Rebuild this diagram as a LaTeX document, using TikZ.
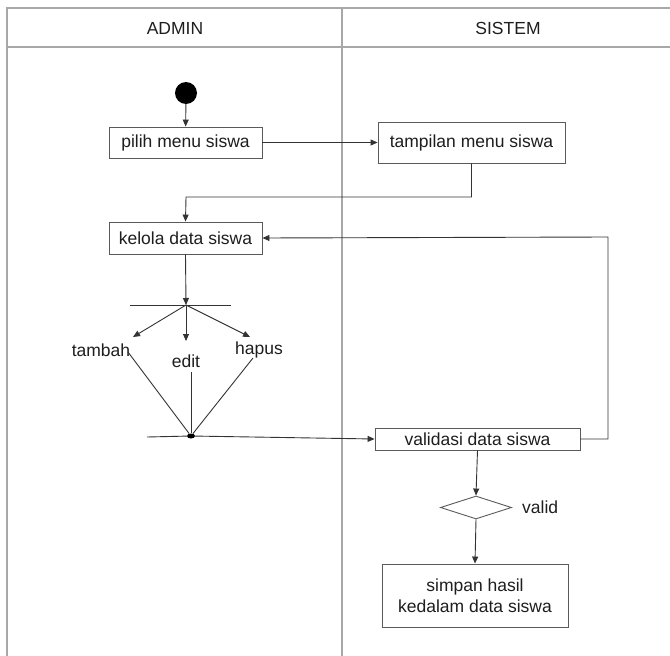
\documentclass[tikz,border=0pt]{standalone}
\usepackage{fontspec}
\setmainfont{Liberation Sans}
\usetikzlibrary{arrows.meta,shapes.geometric}
\definecolor{framegray}{HTML}{A8A8A8}
\definecolor{boxgray}{HTML}{5A5A5A}
\definecolor{linegray}{HTML}{333333}
\definecolor{textdark}{HTML}{1E1E1E}
\tikzset{
  act/.style={draw=boxgray, line width=0.9pt, fill=white, inner sep=0pt, align=center,
    text=textdark, font=\fontsize{17.5}{21}\selectfont},
  lbl/.style={inner sep=0pt, text=textdark, font=\fontsize{17.5}{21}\selectfont},
  hdr/.style={inner sep=0pt, text=textdark, font=\fontsize{17.5}{21}\selectfont},
  flow/.style={draw=linegray, line width=0.9pt, -{Triangle[length=7pt,width=6pt]}},
  plain/.style={draw=linegray, line width=0.9pt},
  frame/.style={draw=framegray, line width=1.2pt}
}
\begin{document}
\begin{tikzpicture}[x=1pt,y=-1pt]
\useasboundingbox (0,0) rectangle (670,656);
% swimlane frame
\coordinate (tl) at (7,8);
\coordinate (tr) at (670,8);
\coordinate (hl) at (7,47);
\coordinate (hr) at (670,47);
\coordinate (bl) at (7,656);
\coordinate (dt) at (342,8);
\coordinate (db) at (342,656);
\draw[frame] (tr) -- (tl) -- (bl);
\draw[frame] (hl) -- (hr);
\draw[frame] (dt) -- (db);
\node[hdr] (hadmin) at (175,28) {ADMIN};
\node[hdr] (hsistem) at (508,28) {SISTEM};

% nodes
\node[circle, fill=black, inner sep=0pt, minimum size=22pt] (start) at (186,93) {};
\node[act, minimum width=153pt, minimum height=31pt] (pilih) at (185.5,142.5) {pilih menu siswa};
\node[act, minimum width=187pt, minimum height=41pt] (tampil) at (471.5,142.5) {tampilan menu siswa};
\node[act, minimum width=153pt, minimum height=32pt] (kelola) at (185.5,238) {kelola data siswa};
\coordinate (fork) at (186,305);
\coordinate (forkL) at (130,305);
\coordinate (forkR) at (231,305);
\node[lbl] (tambah) at (101,350) {tambah};
\node[lbl] (edit) at (186,361) {edit};
\node[lbl] (hapus) at (259,350) {hapus};
\node[ellipse, fill=black, inner sep=0pt, minimum width=8pt, minimum height=5pt] (join) at (191,436) {};
\coordinate (joinL) at (147,437);
\node[act, minimum width=205pt, minimum height=22pt] (valid) at (477.5,439) {validasi data siswa};
\node[diamond, draw=boxgray, line width=0.9pt, inner sep=0pt, minimum width=71pt, minimum height=23pt] (dec) at (476,507.5) {};
\node[lbl, anchor=west] (validlbl) at (522,507) {valid};
\node[act, minimum width=186pt, minimum height=63pt] (simpan) at (475,595.5) {simpan hasil\\kedalam data siswa};

% connectors
\draw[flow] (start) -- (pilih);
\draw[flow] (pilih) -- (tampil);
\draw[flow] (tampil.south) |- (186,197) -- (kelola.north);
\draw[flow] (kelola.south) -- (fork);
\draw[plain] (forkL) -- (forkR);
\draw[flow] (fork) -- (133,337);
\draw[flow] (fork) -- (186,341);
\draw[flow] (fork) -- (250,337);
\draw[plain] (128,352) -- (join);
\draw[plain] (191,372) -- (join);
\draw[plain] (253,358) -- (join);
\draw[plain] (joinL) -- (join);
\draw[flow] (join) -- (valid.west);
\draw[flow] (valid.east) -- (608,439) -- (608,237) -- (kelola.east);
\draw[flow] (valid.south) -- (dec.north);
\draw[flow] (dec.south) -- (simpan.north);
\end{tikzpicture}
\end{document}
